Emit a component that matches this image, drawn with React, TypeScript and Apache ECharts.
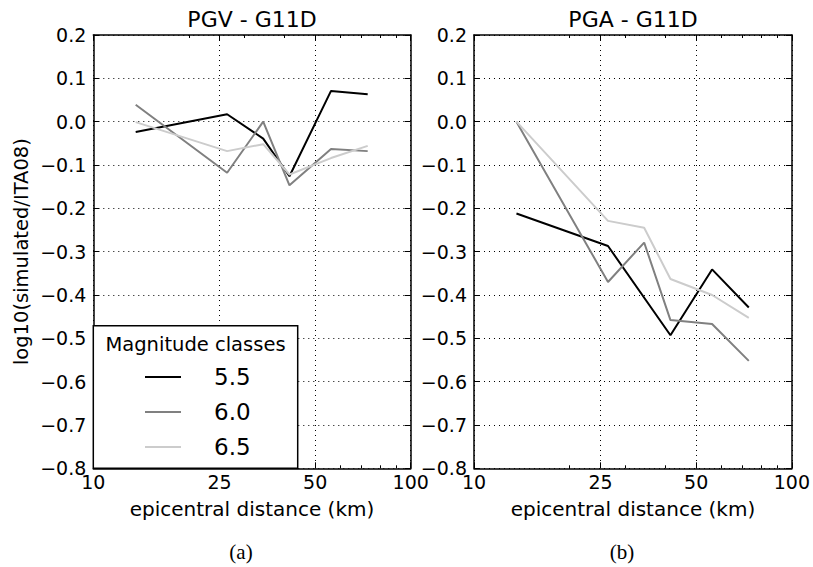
import React, { useEffect, useRef } from "react";
import * as echarts from "echarts";

// Epicentral distance bin centres (km)
const DIST = [13.6, 26.4, 34.3, 41.5, 56.1, 73.2];

// log10(simulated/ITA08) residuals per magnitude class
const PGV_55 = [-0.024, 0.017, -0.039, -0.126, 0.071, 0.063];
const PGV_60 = [0.039, -0.118, 0.0, -0.147, -0.063, -0.068];
const PGV_65 = [-0.001, -0.068, -0.052, -0.122, -0.084, -0.056];

const PGA_55 = [-0.212, -0.287, null, -0.493, -0.341, -0.429];
const PGA_60 = [0.0, -0.37, -0.279, -0.458, -0.467, -0.552];
const PGA_65 = [0.0, -0.229, -0.245, -0.363, -0.4, -0.453];

const CLASSES = ["5.5", "6.0", "6.5"];
const COLORS = ["#000000", "#808080", "#cccccc"];
const X_TICKS = [10, 25, 50, 100];
const TITLES = ["PGV - G11D", "PGA - G11D"];
const PANEL_TAGS = ["(a)", "(b)"];

const FONT = "DejaVu Sans";

const GRIDS = [
  { left: 93.3, top: 35, width: 317.4, height: 433.3 },
  { left: 474, top: 35, width: 318, height: 433.3 },
];

const pairs = (vals: (number | null)[]) =>
  DIST.map((d, i) => [d, vals[i] === null ? null : vals[i]]);

const fmtY = (v: number) => {
  if (Math.abs(v) < 1e-9) return "0.0";
  return v.toFixed(1).replace("-", "\u2212");
};

export default function App() {
  const ref = useRef<HTMLDivElement>(null);

  useEffect(() => {
    if (!ref.current) return;
    const chart = echarts.init(ref.current, null, { renderer: "svg" });

    const dotted = { color: "#000", width: 1, type: [1, 4] as number[] };
    const frame = { show: true, onZero: false, lineStyle: { color: "#000", width: 1.5 } };

    const xAxes: any[] = [];
    const yAxes: any[] = [];
    GRIDS.forEach((_, g) => {
      const base = {
        type: "log",
        logBase: 10,
        min: 10,
        max: 100,
        gridIndex: g,
        axisLine: frame,
        axisTick: { show: true, inside: true, length: 6, customValues: X_TICKS, lineStyle: { color: "#000", width: 1 } },
        minorTick: { show: true, splitNumber: 9, length: 3, lineStyle: { color: "#000", width: 1 } },
        minorSplitLine: { show: false },
      };
      xAxes.push({
        ...base,
        position: "bottom",
        name: "epicentral distance (km)",
        nameLocation: "middle",
        nameGap: 31,
        nameTextStyle: { fontFamily: FONT, fontSize: 20, color: "#000" },
        axisLabel: {
          show: true,
          customValues: X_TICKS,
          margin: 4,
          fontFamily: FONT,
          fontSize: 19,
          color: "#000",
          formatter: (v: number) => String(Math.round(v)),
        },
        splitLine: { show: true, lineStyle: dotted },
      });
      xAxes.push({
        ...base,
        position: "top",
        axisLabel: { show: false },
        splitLine: { show: false },
      });
      const ybase = {
        type: "value",
        min: -0.8,
        max: 0.2,
        interval: 0.1,
        gridIndex: g,
        axisLine: frame,
        axisTick: { show: true, inside: true, length: 6, lineStyle: { color: "#000", width: 1 } },
      };
      yAxes.push({
        ...ybase,
        position: "left",
        name: g === 0 ? "log10(simulated/ITA08)" : "",
        nameLocation: "middle",
        nameGap: 62,
        nameTextStyle: { fontFamily: FONT, fontSize: 19.5, color: "#000" },
        axisLabel: { show: true, margin: 7, fontFamily: FONT, fontSize: 19, color: "#000", formatter: fmtY },
        splitLine: { show: true, lineStyle: dotted },
      });
      yAxes.push({
        ...ybase,
        position: "right",
        axisLabel: { show: false },
        splitLine: { show: false },
      });
    });

    const panels = [
      [PGV_55, PGV_60, PGV_65],
      [PGA_55, PGA_60, PGA_65],
    ];
    const series: any[] = [];
    panels.forEach((sets, g) => {
      sets.forEach((vals, k) => {
        series.push({
          type: "line",
          name: CLASSES[k],
          xAxisIndex: g * 2,
          yAxisIndex: g * 2,
          data: pairs(vals),
          connectNulls: true,
          symbol: "none",
          lineStyle: { color: COLORS[k], width: 2 },
          itemStyle: { color: COLORS[k] },
          z: 2 + k,
        });
      });
    });

    chart.setOption({
      animation: false,
      backgroundColor: "#fff",
      textStyle: { fontFamily: FONT },
      title: TITLES.map((t, g) => ({
        text: t,
        left: GRIDS[g].left + GRIDS[g].width / 2,
        top: 8,
        padding: 0,
        textAlign: "center",
        textStyle: { fontFamily: FONT, fontSize: 22, fontWeight: "normal", color: "#000" },
      })),
      grid: GRIDS.map((r) => ({ ...r, containLabel: false })),
      xAxis: xAxes,
      yAxis: yAxes,
      legend: {
        data: CLASSES,
        orient: "vertical",
        left: 145,
        top: 365.5,
        padding: 0,
        icon: "rect",
        itemWidth: 36,
        itemHeight: 2,
        itemGap: 12,
        selectedMode: false,
        z: 10,
        textStyle: { fontFamily: FONT, fontSize: 23, lineHeight: 20, color: "#000", padding: [0, 0, 0, 28] },
      },
      graphic: [
        {
          type: "rect",
          z: 8,
          shape: { x: 93.3, y: 325.7, width: 204.4, height: 142.6 },
          style: { fill: "#fff", stroke: "#000", lineWidth: 1.5 },
        },
        {
          type: "text",
          z: 9,
          x: 195.5,
          y: 344,
          style: {
            text: "Magnitude classes",
            font: `19.5px "${FONT}"`,
            fill: "#000",
            textAlign: "center",
            textVerticalAlign: "middle",
          },
        },
        ...PANEL_TAGS.map((t, g) => ({
          type: "text",
          z: 9,
          x: GRIDS[g].left + GRIDS[g].width / 2 - 11,
          y: 552,
          style: {
            text: t,
            font: '21px "Liberation Serif"',
            fill: "#000",
            textAlign: "center",
            textVerticalAlign: "middle",
          },
        })),
      ],
      series,
    });

    return () => chart.dispose();
  }, []);

  return (
    <div
      ref={ref}
      style={{ position: "absolute", left: 0, top: 0, width: 813, height: 567 }}
    />
  );
}
